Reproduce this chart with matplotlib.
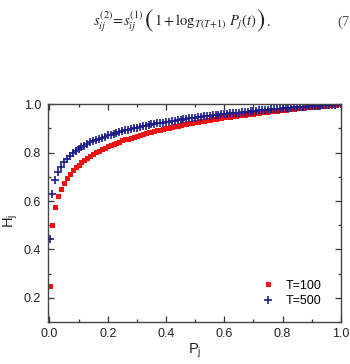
import numpy as np
import matplotlib
matplotlib.use("Agg")
import matplotlib.pyplot as plt
from matplotlib.ticker import MultipleLocator, FormatStrFormatter

# P_j values (first point near zero, then steps of 0.01)
p_j = [0.001,
       0.01, 0.02, 0.03, 0.04, 0.05, 0.06, 0.07, 0.08, 0.09, 0.10,
       0.11, 0.12, 0.13, 0.14, 0.15, 0.16, 0.17, 0.18, 0.19, 0.20,
       0.21, 0.22, 0.23, 0.24, 0.25, 0.26, 0.27, 0.28, 0.29, 0.30,
       0.31, 0.32, 0.33, 0.34, 0.35, 0.36, 0.37, 0.38, 0.39, 0.40,
       0.41, 0.42, 0.43, 0.44, 0.45, 0.46, 0.47, 0.48, 0.49, 0.50,
       0.51, 0.52, 0.53, 0.54, 0.55, 0.56, 0.57, 0.58, 0.59, 0.60,
       0.61, 0.62, 0.63, 0.64, 0.65, 0.66, 0.67, 0.68, 0.69, 0.70,
       0.71, 0.72, 0.73, 0.74, 0.75, 0.76, 0.77, 0.78, 0.79, 0.80,
       0.81, 0.82, 0.83, 0.84, 0.85, 0.86, 0.87, 0.88, 0.89, 0.90,
       0.91, 0.92, 0.93, 0.94, 0.95, 0.96, 0.97, 0.98, 0.99, 1.00]

# H_j for T=100
h_100 = [0.251,
         0.501, 0.576, 0.620, 0.651, 0.675, 0.695, 0.712, 0.726, 0.739, 0.750,
         0.761, 0.770, 0.779, 0.787, 0.794, 0.801, 0.808, 0.814, 0.820, 0.825,
         0.831, 0.836, 0.841, 0.845, 0.850, 0.854, 0.858, 0.862, 0.866, 0.869,
         0.873, 0.876, 0.880, 0.883, 0.886, 0.889, 0.892, 0.895, 0.898, 0.901,
         0.903, 0.906, 0.908, 0.911, 0.913, 0.916, 0.918, 0.920, 0.923, 0.925,
         0.927, 0.929, 0.931, 0.933, 0.935, 0.937, 0.939, 0.941, 0.943, 0.945,
         0.946, 0.948, 0.950, 0.952, 0.953, 0.955, 0.957, 0.958, 0.960, 0.961,
         0.963, 0.964, 0.966, 0.967, 0.969, 0.970, 0.972, 0.973, 0.974, 0.976,
         0.977, 0.978, 0.980, 0.981, 0.982, 0.984, 0.985, 0.986, 0.987, 0.989,
         0.990, 0.991, 0.992, 0.993, 0.994, 0.996, 0.997, 0.998, 0.999, 1.000]

# H_j for T=500
h_500 = [0.444,
         0.630, 0.685, 0.718, 0.741, 0.759, 0.774, 0.786, 0.797, 0.806, 0.815,
         0.822, 0.829, 0.836, 0.842, 0.847, 0.853, 0.857, 0.862, 0.866, 0.871,
         0.874, 0.878, 0.882, 0.885, 0.888, 0.892, 0.895, 0.898, 0.900, 0.903,
         0.906, 0.908, 0.911, 0.913, 0.916, 0.918, 0.920, 0.922, 0.924, 0.926,
         0.928, 0.930, 0.932, 0.934, 0.936, 0.938, 0.939, 0.941, 0.943, 0.944,
         0.946, 0.947, 0.949, 0.950, 0.952, 0.953, 0.955, 0.956, 0.958, 0.959,
         0.960, 0.962, 0.963, 0.964, 0.965, 0.967, 0.968, 0.969, 0.970, 0.971,
         0.972, 0.974, 0.975, 0.976, 0.977, 0.978, 0.979, 0.980, 0.981, 0.982,
         0.983, 0.984, 0.985, 0.986, 0.987, 0.988, 0.989, 0.990, 0.991, 0.992,
         0.992, 0.993, 0.994, 0.995, 0.996, 0.997, 0.998, 0.998, 0.999, 1.000]

plt.rcParams['font.family'] = ['Liberation Sans', 'DejaVu Sans']
plt.rcParams['mathtext.fontset'] = 'stix'

W, H = 350, 364
fig = plt.figure(figsize=(W / 100, H / 100), dpi=100)
ax = fig.add_axes([0.137, 0.115, 0.837, 0.599])

# equation above the chart, built piece by piece so the brackets can be tall
fig.canvas.draw()
renderer = fig.canvas.get_renderer()
eq_base = 1 - 26 / H
pieces = [
    (r'$s_{ij}^{(2)}\!=\!s_{ij}^{(1)}$', 10.5, 0, 1.0),
    (r'$($', 18, -1.5, 0.0),
    (r'$1+\log_{T(T+1)}\,P_j(t)$', 10.5, 0, 0.0),
    (r'$)$', 18, -1.5, 0.0),
    (r'$.$', 10.5, 0, 0),
]
x = 93 / W
for s, fs, dy, gap in pieces:
    t = fig.text(x, eq_base + dy / H, s, fontsize=fs, ha='left',
                 va='baseline', color='#222222')
    bb = t.get_window_extent(renderer)
    x = (bb.x1 + gap) / W
fig.text(0.999, eq_base, '(7', family='Liberation Serif', fontsize=10.5,
         ha='right', va='baseline', color='#555555')

ax.plot(p_j, h_100, linestyle='none', marker='s', markersize=3.6,
        color='#ee1111', markeredgewidth=0, label='T=100')
ax.plot(p_j, h_500, linestyle='none', marker='+', markersize=5.5,
        markeredgewidth=1.2, color='#1a1a8c', label='T=500')

ax.set_xlim(-0.005, 1.0)
ax.set_ylim(0.1, 1.0)
ax.xaxis.set_major_locator(MultipleLocator(0.2))
ax.xaxis.set_minor_locator(MultipleLocator(0.1))
ax.yaxis.set_major_locator(MultipleLocator(0.2))
ax.yaxis.set_minor_locator(MultipleLocator(0.1))
ax.xaxis.set_major_formatter(FormatStrFormatter('%.1f'))
ax.yaxis.set_major_formatter(FormatStrFormatter('%.1f'))

ax.tick_params(which='both', direction='in', top=True, right=True,
               colors='#333333', labelcolor='#222222', labelsize=9)
ax.tick_params(which='major', length=4, width=0.9)
ax.tick_params(which='minor', length=2.2, width=0.9)
ax.tick_params(axis='x', pad=4)
ax.tick_params(axis='y', pad=5)
for s in ax.spines.values():
    s.set_color('#444444')
    s.set_linewidth(1.0)

ax.set_xlabel(r'P$_\mathregular{j}$', fontsize=10.5, color='#222222', labelpad=2)
ax.set_ylabel(r'H$_\mathregular{j}$', fontsize=10.5, color='#222222')
ax.yaxis.set_label_coords(-0.096, 0.466)

ax.legend(loc='lower right', bbox_to_anchor=(0.935, 0.07), frameon=False,
          fontsize=9, handlelength=1.0, handletextpad=0.9, labelspacing=0.25,
          borderpad=0, borderaxespad=0)

fig.savefig('out.png', dpi=100)
